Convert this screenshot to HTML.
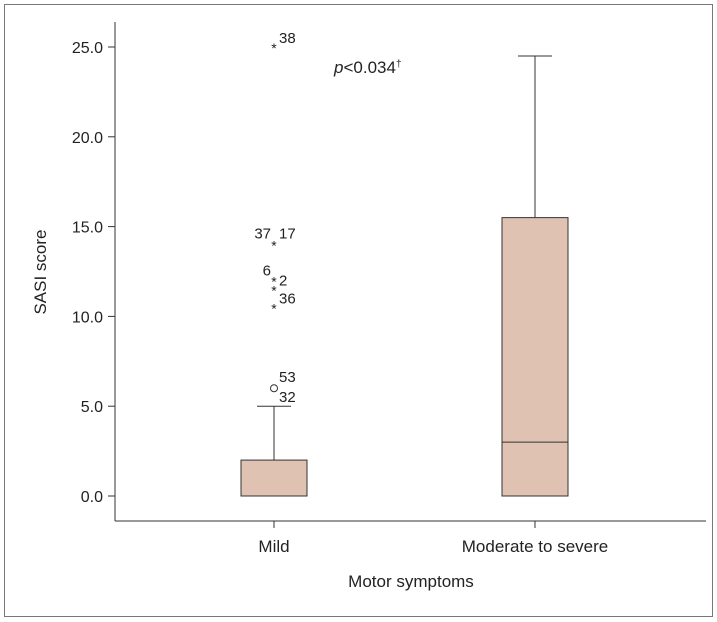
<!DOCTYPE html>
<html><head><meta charset="utf-8"><style>
body{margin:0;background:#fff;}
svg{display:block;font-family:"Liberation Sans",sans-serif;}
</style></head><body>
<svg id="chart" width="717" height="622" xmlns="http://www.w3.org/2000/svg">
<rect x="4.5" y="4.5" width="708" height="612" fill="#fff" stroke="#777"/>
<g id="axes"></g>
<g id="marks"></g>
<text x="334" y="73" font-size="17" fill="#222"><tspan font-style="italic">p</tspan>&lt;0.034<tspan font-size="10" dy="-6">†</tspan></text>
<text x="46" y="272" font-size="17" fill="#222" text-anchor="middle" transform="rotate(-90 46 272)">SASI score</text>
<text x="411" y="587" font-size="17" fill="#222" text-anchor="middle">Motor symptoms</text>
</svg>
<script>
const categories=["Mild","Moderate to severe"];
const q1=[0,0];
const median=[0,3];
const q3=[2,15.5];
const whiskerLow=[0,0];
const whiskerHigh=[5,24.5];
const outlierValues=[6,10.5,11.5,12,14,25];
const outlierTypes=["circle","star","star","star","star","star"];
const outlierLabels=["53\u00a032","36","2","6","37\u00a017","38"];
const yTicks=[0,5,10,15,20,25];
const tickLabels=["0.0","5.0","10.0","15.0","20.0","25.0"];
const NS="http://www.w3.org/2000/svg";
const y=v=>496-v*17.96;
const x=i=>274+i*261;
function mk(tag,attrs,parent,txt){const e=document.createElementNS(NS,tag);for(const k in attrs)e.setAttribute(k,attrs[k]);if(txt!==undefined)e.textContent=txt;parent.appendChild(e);return e;}
const ax=document.getElementById('axes'),mg=document.getElementById('marks');
let e=mk('line',{x1:115,y1:22,x2:115,y2:521,stroke:'#333'},ax);

e=mk('line',{x1:115,y1:521,x2:706,y2:521,stroke:'#333'},ax);

yTicks.forEach((t,i)=>{
 e=mk('line',{x1:108,y1:y(t),x2:115,y2:y(t),stroke:'#333'},ax);
 
 e=mk('text',{x:103,y:y(t)+6,'font-size':16,'text-anchor':'end',fill:'#222'},ax,tickLabels[i]);
 
});
categories.forEach((c,i)=>{
 e=mk('line',{x1:x(i),y1:521,x2:x(i),y2:528,stroke:'#333'},ax);
 
 e=mk('text',{x:x(i),y:552,'font-size':17,'text-anchor':'middle',fill:'#222'},ax,c);
 
 const cx=x(i);
 e=mk('line',{x1:cx,y1:y(q3[i]),x2:cx,y2:y(whiskerHigh[i]),stroke:'#333'},mg);
 
 e=mk('line',{x1:cx-17,y1:y(whiskerHigh[i]),x2:cx+17,y2:y(whiskerHigh[i]),stroke:'#333'},mg);
 
 e=mk('rect',{x:cx-33,y:y(q3[i]),width:66,height:y(q1[i])-y(q3[i]),fill:'#dfc2b1',stroke:'#333'},mg);
 
 e=mk('line',{x1:cx-33,y1:y(median[i]),x2:cx+33,y2:y(median[i]),stroke:'#333'},mg);
 
});
outlierValues.forEach((v,i)=>{
 const cx=x(0),cy=y(v);
 if(outlierTypes[i]==='circle'){
  e=mk('circle',{cx:cx,cy:cy,r:3.5,fill:'none',stroke:'#333'},mg);
 }else{
  e=mk('text',{x:cx,y:cy+6,'font-size':14,'text-anchor':'middle',fill:'#222'},mg,'*');
 }
 
 const lab=outlierLabels[i];
 if(lab.indexOf('\u00a0')>0&&outlierTypes[i]==='circle'){
  const p=lab.split('\u00a0');
  e=mk('text',{x:cx+5,y:cy-6,'font-size':15,fill:'#222'},mg,p[0]);
  
  e=mk('text',{x:cx+5,y:cy+14,'font-size':15,fill:'#222'},mg,p[1]);
  
 }else if(lab.indexOf('\u00a0')>0){
  const p=lab.split('\u00a0');
  e=mk('text',{x:cx-3,y:cy-6,'font-size':15,'text-anchor':'end',fill:'#222'},mg,p[0]);
  
  e=mk('text',{x:cx+5,y:cy-6,'font-size':15,fill:'#222'},mg,p[1]);
  
 }else if(lab==='6'){
  e=mk('text',{x:cx-3,y:cy-5,'font-size':15,'text-anchor':'end',fill:'#222'},mg,lab);
  
 }else{
  e=mk('text',{x:cx+5,y:cy-4,'font-size':15,fill:'#222'},mg,lab);
  
 }
});
</script>
</body></html>
